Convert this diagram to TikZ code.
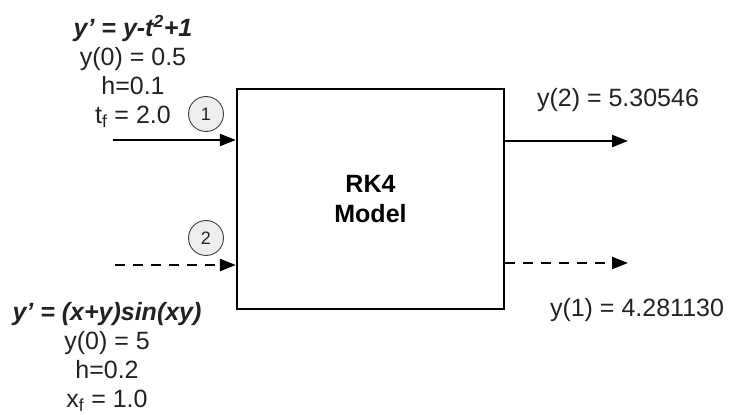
\documentclass[tikz,border=0pt]{standalone}
\usepackage{fontspec}
\setmainfont{Liberation Sans}
\usepackage{xcolor}
\usetikzlibrary{arrows.meta, positioning}
\definecolor{cinzaclaro}{HTML}{EEEEEE}
\definecolor{texto}{HTML}{222222}

\begin{document}
\begin{tikzpicture}[
    x=1pt, y=1pt,
    bloco/.style={draw, line width=2.2pt, minimum width=267pt, minimum height=220pt, align=center, font=\fontsize{25}{30}\selectfont\bfseries},
    rotulo/.style={align=center, inner sep=0pt, text=texto, font=\fontsize{25}{29}\selectfont},
    marca/.style={draw=black!75, line width=0.9pt, circle, fill=cinzaclaro, minimum size=35pt, inner sep=0pt, text=texto, font=\fontsize{18}{18}\selectfont},
    seta/.style={draw, line width=2.3pt, -{Triangle[length=16pt, width=12pt]}},
    tracejada/.style={seta, dash pattern=on 10pt off 8pt}
]
    \useasboundingbox (0,0) rectangle (729,415);

    \node[bloco] (rk4) at (370.5,216) {RK4\\Model};

    \node[rotulo] (eq1) at (133,344) {\textbf{\textit{y’ = y-t\textsuperscript{2}+1}}\\y(0) = 0.5\\h=0.1\\t\textsubscript{f} = 2.0};
    \node[rotulo] (eq2) at (107,58) {\textbf{\textit{y’ = (x+y)sin(xy)}}\\y(0) = 5\\h=0.2\\x\textsubscript{f} = 1.0};

    \node[marca] (m1) at (206,301) {1};
    \node[marca] (m2) at (206,177) {2};

    \coordinate (in1) at (113,275);
    \coordinate (in2) at (115,150);
    \coordinate (out1) at (628,274);
    \coordinate (out2) at (628,152);

    \node[rotulo] (res1) at (618,315) {y(2) = 5.30546};
    \node[rotulo] (res2) at (637,105) {y(1) = 4.281130};

    \draw[seta] (in1) -- (rk4.west |- in1);
    \draw[tracejada] (in2) -- (rk4.west |- in2);
    \draw[seta] (rk4.east |- out1) -- (out1);
    \draw[tracejada] (rk4.east |- out2) -- (out2);
\end{tikzpicture}
\end{document}
